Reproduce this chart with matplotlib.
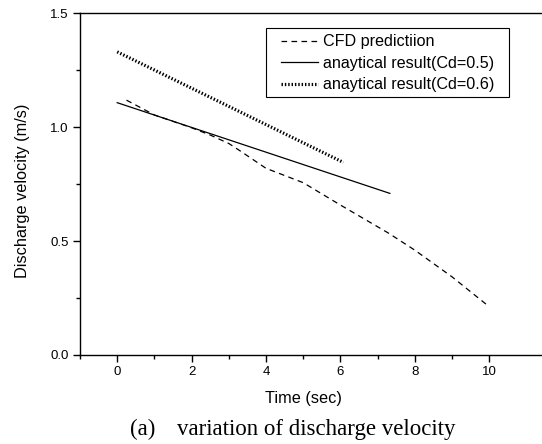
import matplotlib
matplotlib.use('Agg')
import matplotlib.pyplot as plt
from matplotlib.ticker import FixedLocator
from matplotlib.patches import Rectangle

# valori
cfd_t = [0.25, 1.0, 2.0, 2.5, 3.0, 3.3, 4.0, 5.0, 6.0, 7.3, 8.0, 9.0, 10.0]
cfd_v = [1.118, 1.053, 0.997, 0.965, 0.928, 0.896, 0.819, 0.756, 0.658, 0.534, 0.46, 0.343, 0.212]
cd05_t = [0.0, 7.33]
cd05_v = [1.107, 0.709]
cd06_t = [0.0, 6.08]
cd06_v = [1.33, 0.845]

plt.rcParams['font.family'] = ['Liberation Sans', 'DejaVu Sans']

fig = plt.figure(figsize=(5.42, 4.44), dpi=100)
ax = fig.add_axes([0.1476, 0.2005, 0.8524, 0.770])

ax.plot(cfd_t, cfd_v, color='black', lw=0.9, linestyle=(0, (4.5, 3.5)), label='CFD predictiion')
ax.plot(cd05_t, cd05_v, color='black', lw=0.9, label='anaytical result(Cd=0.5)')
ax.plot(cd06_t, cd06_v, color='black', lw=2.3, linestyle=(0, (0.45, 0.6)), label='anaytical result(Cd=0.6)')

ax.set_xlim(-1, 11.42)
ax.set_ylim(0, 1.5)
ax.set_xticks([0, 2, 4, 6, 8, 10])
ax.xaxis.set_minor_locator(FixedLocator([-1, 1, 3, 5, 7, 9]))
ax.set_yticks([0.0, 0.5, 1.0, 1.5])
ax.set_yticklabels(['0.0', '0.5', '1.0', '1.5'])
ax.yaxis.set_minor_locator(FixedLocator([0.25, 0.75, 1.25]))
ax.tick_params(which='major', direction='out', length=5, width=1, labelsize=9.5, pad=3)
ax.tick_params(which='minor', direction='out', length=3, width=1)
ax.spines['right'].set_visible(False)
for s in ['left', 'bottom', 'top']:
    ax.spines[s].set_linewidth(1)

ax.set_xlabel('Time (sec)', fontsize=11.7)
ax.xaxis.set_label_coords(0.483, -0.105)
ax.set_ylabel('Discharge velocity (m/s)', fontsize=11.7)
ax.yaxis.set_label_coords(-0.108, 0.48)

# cadrul legendei desenat separat (padding mai mare pe orizontala)
ax.add_patch(Rectangle((0.403, 0.754), 0.526, 0.202, transform=ax.transAxes,
                       fill=False, edgecolor='black', lw=0.8, zorder=5))
leg = ax.legend(loc='upper left', bbox_to_anchor=(0.435, 0.938), fontsize=11.6,
                frameon=False, borderaxespad=0, borderpad=0,
                handlelength=2.3, handletextpad=0.3, labelspacing=0.4)

fig.text(130 / 542, 9 / 444, '(a)', family='Liberation Serif', fontsize=16.5, va='baseline')
fig.text(176.7 / 542, 9 / 444, 'variation of discharge velocity', family='Liberation Serif',
         fontsize=16.5, va='baseline')

fig.savefig('out.png', dpi=100)
